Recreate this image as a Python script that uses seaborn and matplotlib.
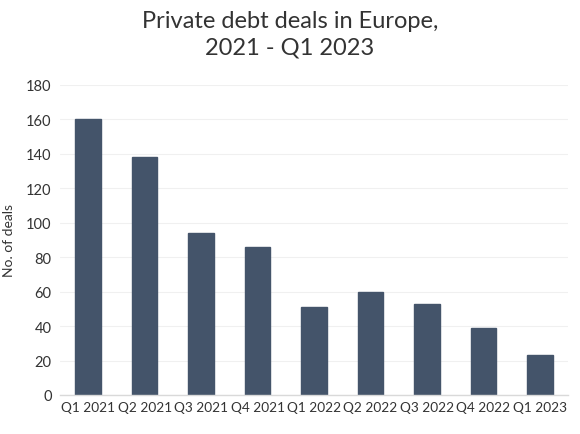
import matplotlib
matplotlib.use("Agg")
import matplotlib.pyplot as plt
import seaborn as sns
import pandas as pd

quarters = ["Q1 2021", "Q2 2021", "Q3 2021", "Q4 2021", "Q1 2022",
            "Q2 2022", "Q3 2022", "Q4 2022", "Q1 2023"]
deals = [160, 138, 94, 86, 51, 60, 53, 39, 23]
yticks = [0, 20, 40, 60, 80, 100, 120, 140, 160, 180]

sns.set_theme(style="white")
plt.rcParams['font.family'] = ['Lato', 'DejaVu Sans']

df = pd.DataFrame({"quarter": quarters, "deals": deals})

fig = plt.figure(figsize=(5.8, 4.35), dpi=100)
ax = fig.add_axes([0.1034, 0.0897, 0.876, 0.713])
sns.barplot(data=df, x="quarter", y="deals", color="#44546a", width=0.45,
            saturation=1, ax=ax, edgecolor="#44546a")
ax.set_ylim(0, 180)
ax.set_yticks(yticks)
ax.set_xlim(-0.5, len(quarters) - 0.5)
ax.grid(axis="y", color="#f0f0f0", linewidth=0.8)
ax.set_axisbelow(True)
for s in ["top", "right", "left"]:
    ax.spines[s].set_visible(False)
ax.spines["bottom"].set_color("#d9d9d9")
ax.spines["bottom"].set_linewidth(1)
ax.tick_params(axis="y", length=0, labelsize=10.5, colors="#333333", pad=6)
ax.tick_params(axis="x", length=0, labelsize=9.8, colors="#333333", pad=4)
ax.set_xlabel("")
ax.set_ylabel("No. of deals", fontsize=10, color="#333333", labelpad=8)
fig.suptitle("Private debt deals in Europe,\n2021 - Q1 2023", fontsize=17,
             color="#333333", y=0.975, linespacing=1.35, fontweight="normal")
fig.savefig("out.png", dpi=100)
